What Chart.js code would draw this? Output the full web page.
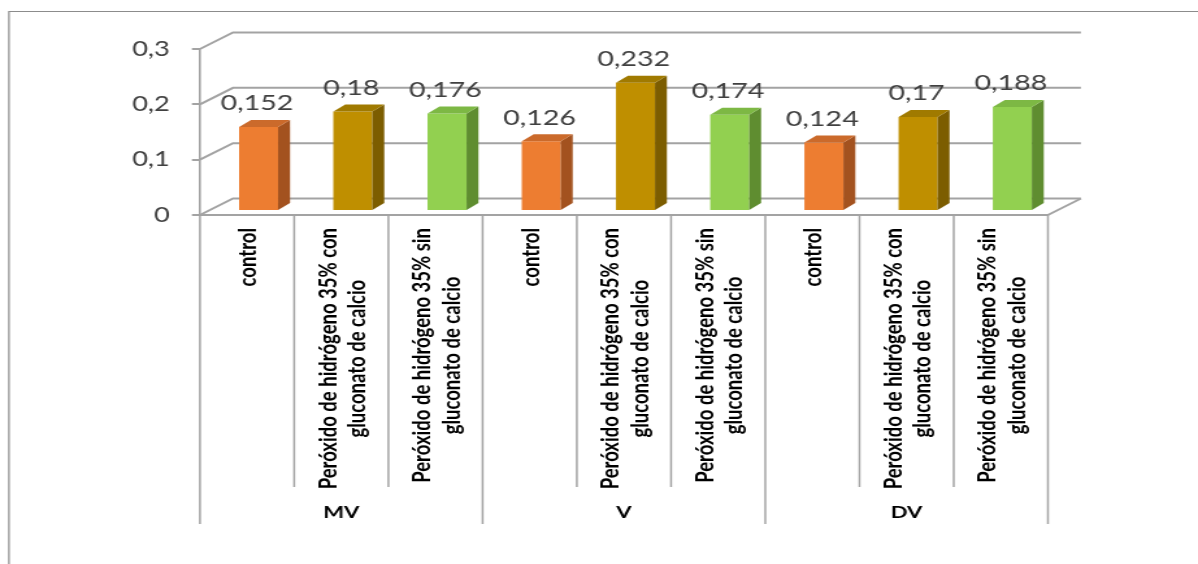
<!DOCTYPE html>
<html>
<head>
<meta charset="utf-8">
<script src="https://cdn.jsdelivr.net/npm/chart.js@4.4.1/dist/chart.umd.min.js"></script>
<style>
  html, body { margin: 0; padding: 0; background: #ffffff; overflow: hidden; }
</style>
</head>
<body>
<!-- drawn on a 922px-wide canvas and shown at 1198px, giving the wide lettering of the original figure -->
<canvas id="c" width="922" height="564" style="display:block;width:1198px;height:564px"></canvas>
<script>
const groups = ['MV', 'V', 'DV'];
const treatments = [
  ['control'],
  ['Peróxido de hidrógeno 35% con', 'gluconato de calcio'],
  ['Peróxido de hidrógeno 35% sin', 'gluconato de calcio']
];
const mvValues = [0.152, 0.18, 0.176];
const vValues = [0.126, 0.232, 0.174];
const dvValues = [0.124, 0.17, 0.188];
const yTickValues = [0, 0.1, 0.2, 0.3];

// face colours per treatment: front, top, side
const frontColors = ['#ED7D31', '#BF8F00', '#92D050'];
const topColors = ['#CB6A2B', '#A07A00', '#7DB844'];
const sideColors = ['#A3521F', '#7C5D00', '#5F8D30'];

const groupValues = [mvValues, vValues, dvValues];
const labels = [];
const values = [];
groups.forEach((g, gi) => {
  treatments.forEach((t, ti) => {
    labels.push(g + ' · ' + t.join(' '));
    values.push(groupValues[gi][ti]);
  });
});

// perspective offsets (canvas px)
const WALL_DX = 25.4, WALL_DY = -16.5;   // front plane -> back wall
const BAR_DX = 8.85, BAR_DY = -4;        // front plane -> bar front faces
const FACE_DX = 9.2, FACE_DY = -7;       // depth of each column
const LINE = '#a3a3a3';

const fmt = v => String(+Number(v).toFixed(3)).replace('.', ',');

const scene3d = {
  id: 'scene3d',
  beforeDraw(chart) {
    const ctx = chart.ctx;
    ctx.save();
    ctx.strokeStyle = '#8c8c8c';
    ctx.lineWidth = 1.2;
    ctx.beginPath();
    ctx.moveTo(6.9, chart.height + 2);
    ctx.lineTo(6.9, 11.5);
    ctx.lineTo(chart.width + 2, 11.5);
    ctx.stroke();
    ctx.restore();
  },
  beforeDatasetsDraw(chart) {
    const { ctx, chartArea: a, scales: { y } } = chart;
    ctx.save();
    ctx.strokeStyle = LINE;
    ctx.lineWidth = 2;
    // side wall + back wall gridlines
    yTickValues.forEach(v => {
      const py = y.getPixelForValue(v);
      ctx.beginPath();
      ctx.moveTo(a.left, py);
      ctx.lineTo(a.left + WALL_DX, py + WALL_DY);
      ctx.lineTo(a.right + WALL_DX, py + WALL_DY);
      ctx.stroke();
    });
    // right edge of the floor
    ctx.beginPath();
    ctx.moveTo(a.right, a.bottom);
    ctx.lineTo(a.right + WALL_DX, a.bottom + WALL_DY);
    ctx.stroke();
    ctx.restore();
    // columns stand a little behind the front plane
    ctx.save();
    ctx.translate(BAR_DX, BAR_DY);
  },
  afterDatasetsDraw(chart) {
    const ctx = chart.ctx;
    const meta = chart.getDatasetMeta(0);
    meta.data.forEach((bar, i) => {
      const { x, y, base, width } = bar.getProps(['x', 'y', 'base', 'width'], true);
      const l = x - width / 2, r = x + width / 2;
      const k = i % treatments.length;
      ctx.fillStyle = sideColors[k];
      ctx.beginPath();
      ctx.moveTo(r, y);
      ctx.lineTo(r + FACE_DX, y + FACE_DY);
      ctx.lineTo(r + FACE_DX, base + FACE_DY);
      ctx.lineTo(r, base);
      ctx.closePath();
      ctx.fill();
      ctx.fillStyle = topColors[k];
      ctx.beginPath();
      ctx.moveTo(l, y);
      ctx.lineTo(l + FACE_DX, y + FACE_DY);
      ctx.lineTo(r + FACE_DX, y + FACE_DY);
      ctx.lineTo(r, y);
      ctx.closePath();
      ctx.fill();
    });
    // value labels
    ctx.fillStyle = '#404040';
    ctx.font = '22px Lato';
    ctx.textAlign = 'center';
    ctx.textBaseline = 'alphabetic';
    meta.data.forEach((bar, i) => {
      ctx.fillText(fmt(values[i]), bar.x - 1.2, bar.y - 16.5);
    });
    ctx.restore();
  },
  afterDraw(chart) {
    const { ctx, chartArea: a, scales: { x } } = chart;
    const n = values.length;
    const per = treatments.length;
    const step = x.getPixelForValue(1) - x.getPixelForValue(0);
    ctx.save();
    // category dividers below the axis
    ctx.strokeStyle = LINE;
    ctx.lineWidth = 1.5;
    for (let i = 0; i <= n; i++) {
      const px = i < n ? x.getPixelForValue(i) - step / 2 : x.getPixelForValue(n - 1) + step / 2;
      const edge = i % per === 0;
      ctx.beginPath();
      ctx.moveTo(px, a.bottom);
      ctx.lineTo(px, a.bottom + (edge ? 309 : 272));
      ctx.stroke();
    }
    // treatment names, rotated
    ctx.fillStyle = '#000000';
    ctx.font = 'bold 18.5px Lato';
    ctx.textAlign = 'center';
    ctx.textBaseline = 'alphabetic';
    const LH = 22.3, ASC = 14.4, TOP = 228;
    for (let i = 0; i < n; i++) {
      const lines = treatments[i % per];
      const cx = x.getPixelForValue(i);
      const widest = Math.max(...lines.map(s => ctx.measureText(s).width));
      const midY = TOP + widest / 2;
      lines.forEach((line, k) => {
        const bx = cx + (ASC - LH * (lines.length - 1)) / 2 + k * LH;
        ctx.save();
        ctx.translate(bx, midY);
        ctx.rotate(-Math.PI / 2);
        ctx.fillText(line, 0, 0);
        ctx.restore();
      });
    }
    // group names
    ctx.font = 'bold 17px Lato';
    groups.forEach((g, gi) => {
      const cx = (x.getPixelForValue(gi * per) + x.getPixelForValue(gi * per + per - 1)) / 2;
      ctx.fillText(g, cx, 518);
    });
    ctx.restore();
  }
};

new Chart(document.getElementById('c'), {
  type: 'bar',
  data: {
    labels: labels,
    datasets: [{
      data: values,
      backgroundColor: values.map((_, i) => frontColors[i % treatments.length]),
      borderWidth: 0,
      barPercentage: 0.414,
      categoryPercentage: 1,
      clip: false
    }]
  },
  options: {
    responsive: false,
    animation: false,
    layout: { padding: { left: 0, top: 49, right: 115.5, bottom: 349 } },
    plugins: { legend: { display: false }, tooltip: { enabled: false } },
    scales: {
      x: {
        type: 'category',
        grid: { display: false },
        border: { display: true, color: LINE, width: 2 },
        ticks: { display: false },
        afterFit: s => { s.height = 0; }
      },
      y: {
        min: 0,
        max: 0.3,
        afterBuildTicks: s => { s.ticks = yTickValues.map(v => ({ value: v })); },
        grid: { drawOnChartArea: false, drawTicks: true, tickLength: 6.2, color: LINE, lineWidth: 2 },
        border: { display: true, color: LINE, width: 1.6 },
        ticks: {
          padding: 16.9,
          color: '#404040',
          font: { family: 'Lato', size: 21 },
          callback: v => fmt(v)
        },
        afterFit: s => { s.width = 153.9; }
      }
    }
  },
  plugins: [scene3d]
});
</script>
</body>
</html>
